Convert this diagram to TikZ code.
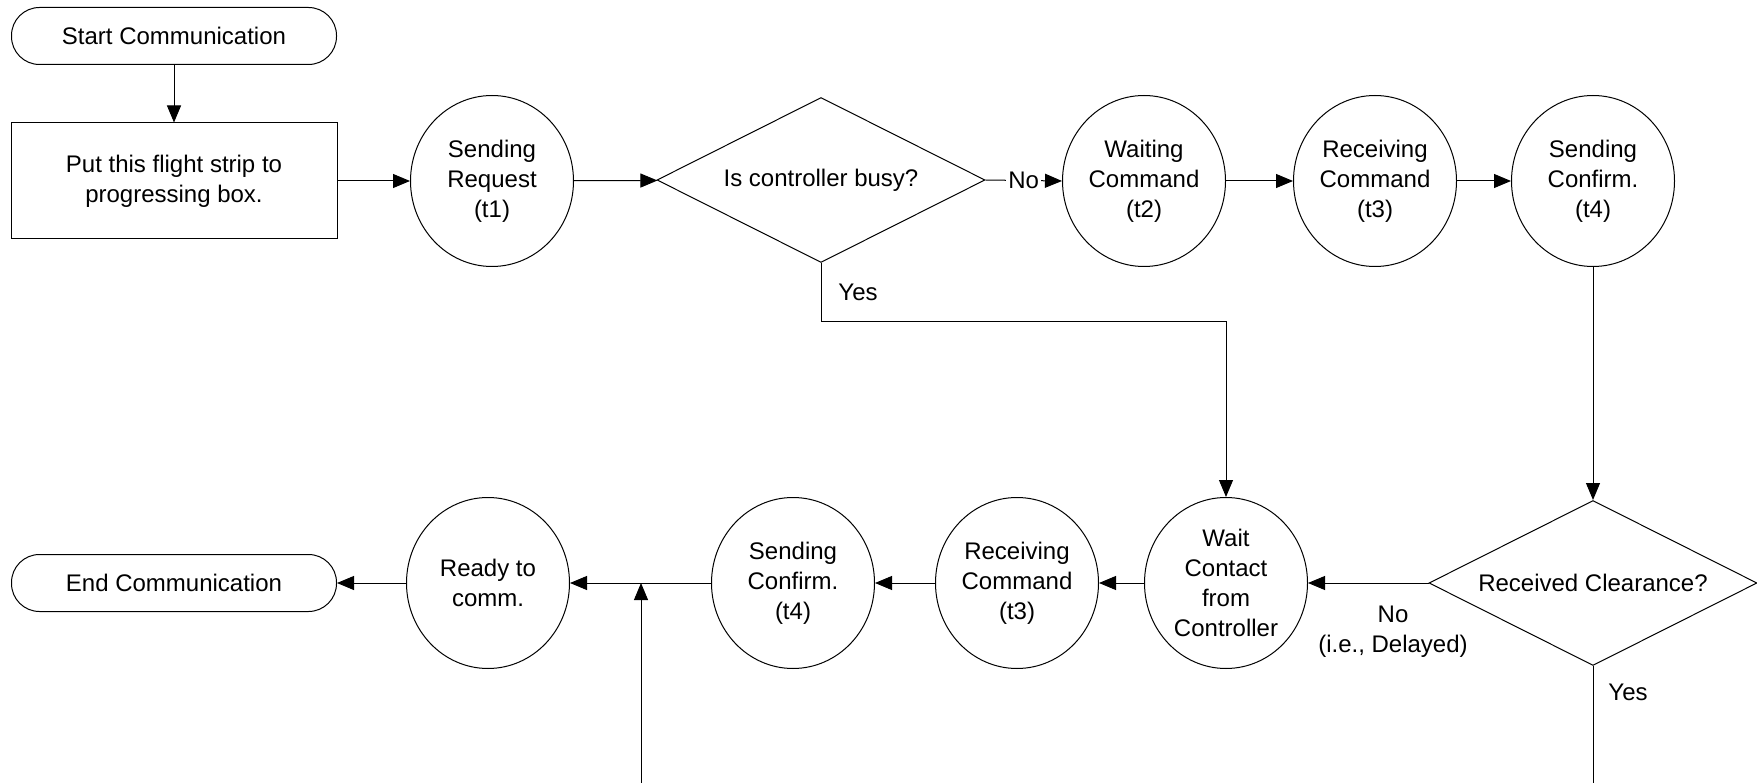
\documentclass[tikz,border=0pt]{standalone}
\usepackage{fontspec}
\setmainfont{Liberation Sans}
\usetikzlibrary{shapes.geometric, arrows.meta, calc}
\begin{document}
\begin{tikzpicture}[x=1pt, y=-1pt, line width=1pt,
  every node/.style={font=\fontsize{24}{30}\selectfont, align=center},
  term/.style={draw, rectangle, rounded corners=28pt, minimum width=325pt, minimum height=57pt, inner sep=0pt},
  proc/.style={draw, rectangle, minimum width=326pt, minimum height=116pt, inner sep=0pt},
  state/.style={draw, ellipse, minimum width=163pt, minimum height=171pt, inner sep=0pt},
  dec/.style={draw, diamond, aspect=2, minimum width=328pt, minimum height=165pt, inner sep=0pt},
  lbl/.style={inner sep=2pt},
  arr/.style={-{Triangle[length=17pt, width=14pt]}}
]
\useasboundingbox (0,0) rectangle (1757,783);

% top row
\node[term] (start) at (174,36) {Start Communication};
\node[proc] (box) at (174,181) {Put this flight strip to\\progressing box.};
\node[state] (sreq) at (492,181) {Sending\\Request\\(t1)};
\node[dec] (d1) at (821,180) {Is controller busy?};
\node[state] (wait2) at (1144,181) {Waiting\\Command\\(t2)};
\node[state] (recv1) at (1375,181) {Receiving\\Command\\(t3)};
\node[state] (sconf1) at (1593,181) {Sending\\Confirm.\\(t4)};

% bottom row
\node[dec] (d2) at (1593,583) {Received Clearance?};
\node[state] (waitc) at (1226,583) {Wait\\Contact\\from\\Controller};
\node[state] (recv2) at (1017,583) {Receiving\\Command\\(t3)};
\node[state] (sconf2) at (793,583) {Sending\\Confirm.\\(t4)};
\node[state] (ready) at (488,583) {Ready to\\comm.};
\node[term] (endc) at (174,583) {End Communication};

\coordinate (j) at (641,583);
\coordinate (b1) at (641,783);
\coordinate (b2) at (1593,783);
\coordinate (yc) at (821,322);

% connectors
\draw[arr] (start) -- (box);
\draw[arr] (box) -- (sreq);
\draw[arr] (sreq) -- (d1);
\draw[arr] (d1.east) -- node[lbl, fill=white] (nolbl) {No} (wait2.west);
\draw[arr] (wait2) -- (recv1);
\draw[arr] (recv1) -- (sconf1);
\draw[arr] (sconf1.south) -- (d2.north);
\draw[arr] (d1.south) -- (yc) -| (waitc.north);
\node[lbl] (yes1) at (858,292) {Yes};
\draw[arr] (d2.west) -- (waitc.east);
\node[lbl] (no2) at (1393,632) {No\\(i.e., Delayed)};
\draw[arr] (waitc) -- (recv2);
\draw[arr] (recv2) -- (sconf2);
\draw[arr] (sconf2.west) -- (ready.east);
\draw[arr] (b1) -- (j);
\draw[arr] (ready) -- (endc);
\draw (d2.south) -- (b2);
\node[lbl] (yes2) at (1628,692) {Yes};
\end{tikzpicture}
\end{document}
